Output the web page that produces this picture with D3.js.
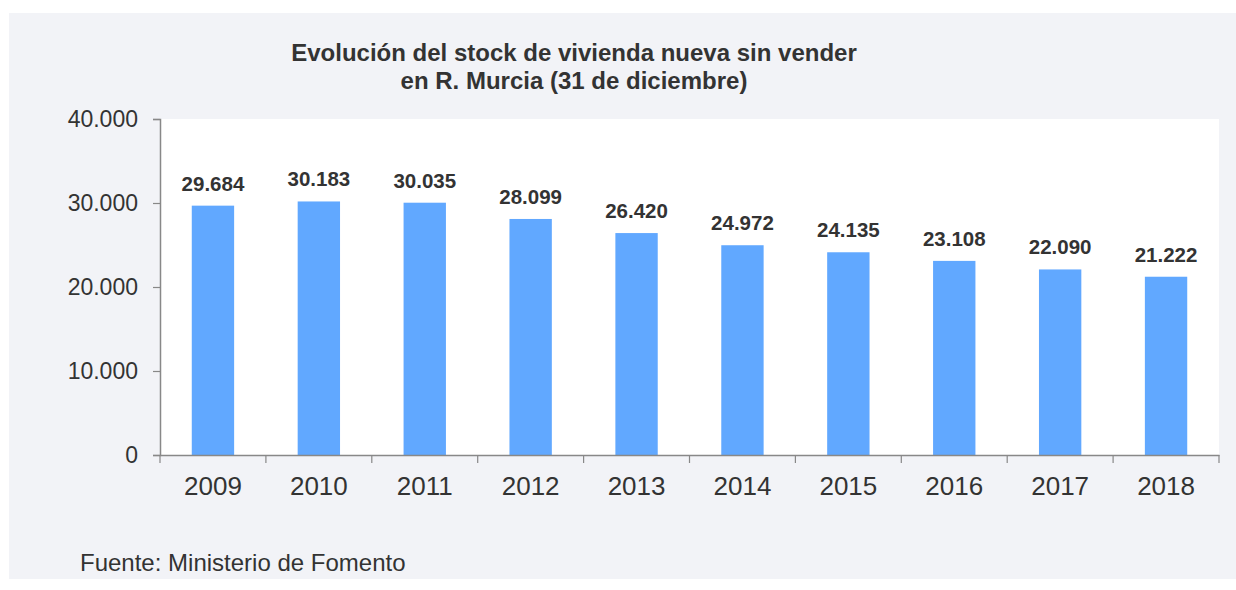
<!DOCTYPE html>
<html><head><meta charset="utf-8">
<script src="https://cdn.jsdelivr.net/npm/d3@7"></script>
<style>
html,body{margin:0;padding:0;background:#fff;}
svg{display:block;font-family:"Liberation Sans",Arial,sans-serif;}
</style></head>
<body>
<svg id="chart" width="1236" height="590"></svg>
<script>
const years = ["2009","2010","2011","2012","2013","2014","2015","2016","2017","2018"];
const stock = [29684, 30183, 30035, 28099, 26420, 24972, 24135, 23108, 22090, 21222];
const yTicks = [0, 10000, 20000, 30000, 40000];
const titleLines = ["Evolución del stock de vivienda nueva sin vender", "en R. Murcia (31 de diciembre)"];
const source = "Fuente: Ministerio de Fomento";

const svg = d3.select("#chart");
const fmt = d3.formatLocale({decimal: ",", thousands: ".", grouping: [3], currency: ["", "€"]}).format(",d");

const L = 160, R = 1219, T = 119, B = 455;
svg.append("rect").attr("x", 9).attr("y", 13).attr("width", 1227).attr("height", 566).attr("fill", "#f2f3f7");
svg.append("rect").attr("x", L).attr("y", T).attr("width", R - L).attr("height", B - T).attr("fill", "#ffffff");

const x = d3.scaleBand().domain(years).range([L, R]).paddingInner(0.6).paddingOuter(0.3);
const y = d3.scaleLinear().domain([0, 40000]).range([B, T]);

svg.append("g").selectAll("rect").data(stock).join("rect")
  .attr("x", (d, i) => x(years[i]))
  .attr("y", d => y(d))
  .attr("width", x.bandwidth())
  .attr("height", d => B - y(d))
  .attr("fill", "#61a8ff");

svg.append("g").selectAll("text").data(stock).join("text")
  .attr("x", (d, i) => x(years[i]) + x.bandwidth() / 2)
  .attr("y", d => y(d) - 15)
  .attr("text-anchor", "middle")
  .attr("font-size", 20.5).attr("font-weight", "bold").attr("fill", "#333")
  .text(d => fmt(d));

// Y axis
const yAxis = svg.append("g").attr("transform", `translate(${L},0)`)
  .call(d3.axisLeft(y).tickValues(yTicks).tickSize(7).tickPadding(15).tickFormat(d => fmt(d)));
yAxis.select(".domain").attr("stroke", "#888").attr("stroke-width", 1.5);
yAxis.selectAll(".tick line").attr("stroke", "#888").attr("stroke-width", 1.2);
yAxis.selectAll(".tick text").attr("font-size", 23).attr("fill", "#333").attr("font-family", "Liberation Sans, Arial, sans-serif");

// X axis: labels centered, ticks at band boundaries
const xAxis = svg.append("g").attr("transform", `translate(0,${B})`)
  .call(d3.axisBottom(x).tickSize(0).tickPadding(22));
xAxis.select(".domain").attr("stroke", "#888").attr("stroke-width", 1.5);
xAxis.selectAll(".tick text").attr("font-size", 26).attr("fill", "#333").attr("font-family", "Liberation Sans, Arial, sans-serif");
const bounds = years.map(yv => x(yv) - x.step() * x.paddingInner() / 2);
bounds.push(R);
bounds[0] = L;
svg.append("g").selectAll("line").data(bounds).join("line")
  .attr("x1", d => d).attr("x2", d => d)
  .attr("y1", B).attr("y2", B + 8)
  .attr("stroke", "#888").attr("stroke-width", 1.2);

// Title
svg.append("g").selectAll("text").data(titleLines).join("text")
  .attr("x", 574).attr("y", (d, i) => 61 + i * 28)
  .attr("text-anchor", "middle")
  .attr("font-size", 24).attr("font-weight", "bold").attr("fill", "#333")
  .text(d => d);

svg.append("text").attr("x", 80).attr("y", 571)
  .attr("font-size", 24).attr("fill", "#333").text(source);
</script>
</body></html>
